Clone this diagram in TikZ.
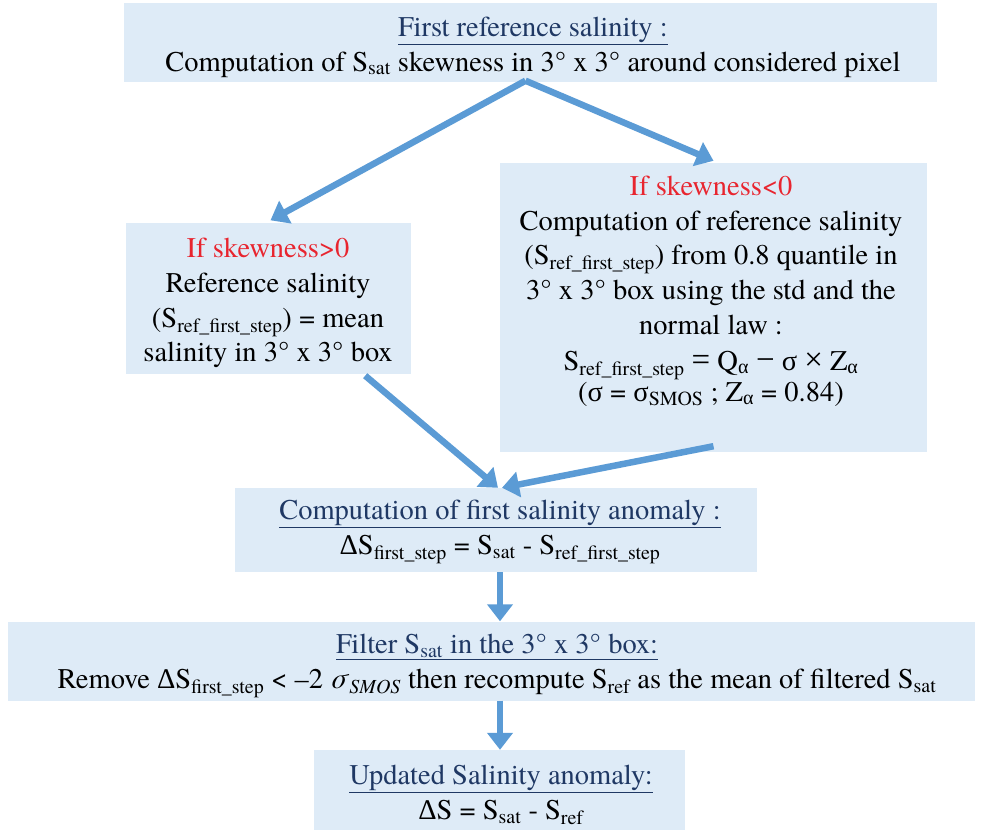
\documentclass[tikz,border=0pt]{standalone}
\usepackage{fontspec}
\setmainfont{texgyretermes}[Extension=.otf, UprightFont=*-regular, ItalicFont=*-italic, BoldFont=*-bold, BoldItalicFont=*-bolditalic]
\newfontfamily\symfont{Liberation Serif}
\usetikzlibrary{arrows.meta,calc}
\definecolor{boxfill}{HTML}{DEEBF7}
\definecolor{arrowblue}{HTML}{5B9BD5}
\definecolor{titleblue}{HTML}{1F3864}
\definecolor{condred}{HTML}{E8252F}
\newcommand{\sbs}[1]{\textsubscript{#1}}
\newcommand{\ttl}[1]{{\color{titleblue}\underline{#1}}}
\newcommand{\gk}[1]{{\symfont #1}}
\newcommand{\bigop}[1]{{\fontsize{33}{34}\selectfont\symfont #1}}
\tikzset{
  box/.style={fill=boxfill, draw=none, inner sep=0pt},
  txt/.style={align=center, font=\fontsize{28.5}{34.8}\selectfont, inner sep=0pt},
  flow/.style={draw=arrowblue, line width=6.5pt, -{Triangle[width=25pt,length=17pt]}}
}
\begin{document}
\begin{tikzpicture}[x=1pt,y=-1pt]
\useasboundingbox (0,0) rectangle (981,832);
% boxes
\node[box, minimum width=813, minimum height=79] (top) at (530.5,43) {};
\node[box, minimum width=285, minimum height=151] (lbox) at (268.5,298) {};
\node[box, minimum width=427, minimum height=289] (rbox) at (713.5,307.5) {};
\node[box, minimum width=522, minimum height=84] (anom) at (496,530) {};
\node[box, minimum width=967, minimum height=79] (filt) at (491.5,661) {};
\node[box, minimum width=371, minimum height=80] (upd) at (499.5,790) {};
% texts
\node[txt] (toptxt) at (533,47) {\ttl{First reference salinity :}\\
Computation of S\sbs{sat} skewness in 3° x 3° around considered pixel};
\node[txt] (ltxt) at (268,303) {{\color{condred}If skewness>0}\\
Reference salinity\\
(S\sbs{ref\_first\_step}) = mean\\
salinity in 3° x 3° box};
\node[txt] (rtxt) at (711,291) {{\color{condred}If skewness<0}\\
Computation of reference salinity\\
(S\sbs{ref\_first\_step}) from 0.8 quantile in\\
3° x 3° box using the std and the\\
normal law :\\[1pt]
S\sbs{ref\_first\_step} \bigop{=} Q\sbs{\gk{α}} \bigop{−} \gk{σ} \bigop{×} Z\sbs{\gk{α}}\\[-4pt]
(\gk{σ} = \gk{σ}\sbs{SMOS} ; Z\sbs{\gk{α}} = 0.84)};
\node[txt] (atxt) at (500,532) {\ttl{Computation of first salinity anomaly :}\\
\gk{Δ}S\sbs{first\_step} = S\sbs{sat} - S\sbs{ref\_first\_step}};
\node[txt] (ftxt) at (497,666) {\ttl{Filter S\sbs{sat} in the 3° x 3° box:}\\
Remove \gk{Δ}S\sbs{first\_step} < –2 \textit{σ}\sbs{\textit{SMOS}} then recompute S\sbs{ref} as the mean of filtered S\sbs{sat}};
\node[txt] (utxt) at (501,795) {\ttl{Updated Salinity anomaly:}\\
\gk{Δ}S = S\sbs{sat} - S\sbs{ref}};
% connectors
\coordinate (apex) at ([xshift=-5pt,yshift=2pt]top.south);
\coordinate (v1) at ([xshift=4pt]anom.south);
\coordinate (v2) at ([xshift=8.5pt]filt.south);
\draw[flow] (apex) -- ([xshift=2pt,yshift=2pt]lbox.north);
\draw[flow] (apex) -- ([yshift=2pt]rbox.north);
\draw[flow] ([xshift=-46pt,yshift=-2pt]lbox.south east) -- ([xshift=2pt]anom.north);
\draw[flow] ([yshift=6pt]rbox.south) -- ([xshift=6pt]anom.north);
\draw[flow] (v1) -- (v1 |- filt.north);
\draw[flow] (v2) -- (v2 |- upd.north);
\end{tikzpicture}
\end{document}
